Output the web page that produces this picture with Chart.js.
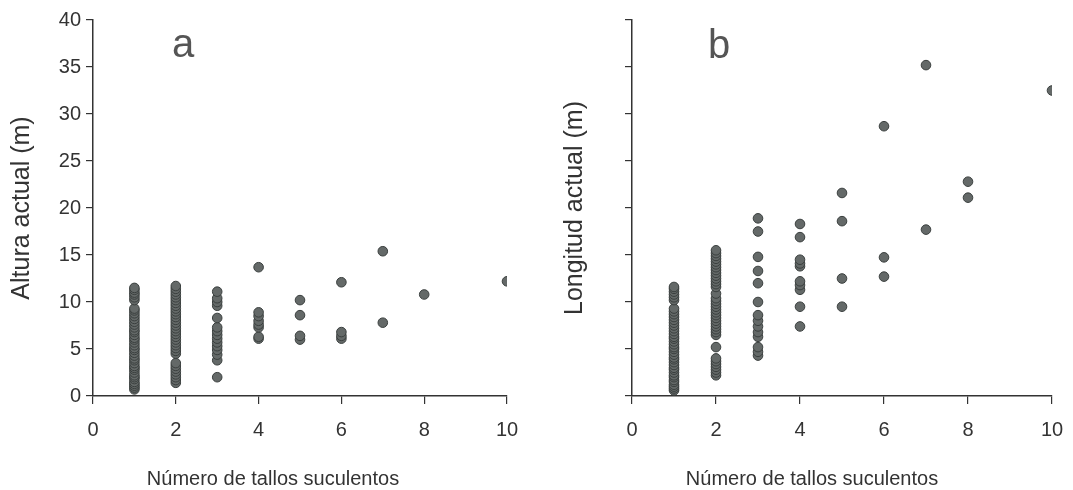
<!DOCTYPE html>
<html>
<head>
<meta charset="utf-8">
<script src="https://cdn.jsdelivr.net/npm/chart.js@4.4.1/dist/chart.umd.min.js"></script>
<style>
  html, body { margin: 0; padding: 0; background: #fff; }
  #wrap { position: relative; width: 1073px; height: 490px; }
  #panelA { position: absolute; left: 0; top: 0; }
  #panelB { position: absolute; left: 536px; top: 0; }
</style>
</head>
<body>
<div id="wrap">
  <canvas id="panelA" width="536" height="490"></canvas>
  <canvas id="panelB" width="537" height="490"></canvas>
</div>
<script>
// número de tallos suculentos (eje x)
const tallos = [1, 2, 3, 4, 5, 6, 7, 8, 10];

// a: altura actual (m) por número de tallos
const alturaActual = [
  [0.7, 0.9, 1.1, 1.3, 1.5, 1.8, 2.0, 2.2, 2.5, 2.8, 3.0, 3.2, 3.5, 3.8, 4.0, 4.3, 4.6, 4.9, 5.1, 5.4,
   5.7, 6.0, 6.2, 6.5, 6.8, 7.0, 7.3, 7.6, 7.9, 8.2, 8.5, 8.8, 9.1, 9.3, 10.2, 10.5, 10.8, 11.0, 11.3, 11.5],
  [1.4, 1.7, 2.0, 2.3, 2.6, 2.9, 3.2, 3.5, 4.5, 4.8, 5.1, 5.4, 5.7, 6.0, 6.3, 6.6, 6.9, 7.2, 7.5, 7.8,
   8.1, 8.4, 8.7, 9.0, 9.3, 9.6, 9.9, 10.2, 10.5, 10.8, 11.1, 11.4, 11.7],
  [2.0, 3.8, 4.4, 4.9, 5.3, 5.7, 6.1, 6.5, 6.9, 7.3, 8.3, 9.6, 10.0, 10.4, 11.1],
  [6.1, 6.3, 7.3, 7.6, 8.0, 8.5, 8.9, 13.7],
  [6.0, 6.4, 8.6, 10.2],
  [6.1, 6.4, 6.8, 12.1],
  [7.8, 15.4],
  [10.8],
  [12.2]
];

// b: longitud actual (m) por número de tallos
const longitudActual = [
  [0.6, 0.8, 1.0, 1.2, 1.5, 1.7, 2.0, 2.2, 2.5, 2.8, 3.0, 3.3, 3.6, 3.9, 4.1, 4.4, 4.7, 5.0, 5.2, 5.5,
   5.8, 6.1, 6.3, 6.6, 6.9, 7.2, 7.5, 7.8, 8.1, 8.4, 8.7, 9.0, 9.3, 10.2, 10.5, 10.8, 11.1, 11.4, 11.6],
  [2.2, 2.5, 2.8, 3.1, 3.4, 3.7, 4.0, 5.2, 6.5, 6.8, 7.1, 7.4, 7.7, 8.0, 8.3, 8.6, 8.9, 9.2, 9.5, 9.8,
   10.1, 10.4, 10.9, 11.6, 11.9, 12.2, 12.5, 12.8, 13.1, 13.4, 13.7, 14.0, 14.3, 14.6, 14.9, 15.2, 15.5],
  [4.3, 4.7, 5.2, 6.3, 6.8, 7.4, 8.0, 8.6, 10.0, 12.0, 13.3, 14.8, 17.5, 18.9],
  [7.4, 9.5, 11.3, 11.8, 12.2, 13.8, 14.1, 14.5, 16.9, 18.3],
  [9.5, 12.5, 18.6, 21.6],
  [12.7, 14.75, 28.7],
  [17.7, 35.2],
  [21.1, 22.8],
  [32.5]
];

const xTicks = [0, 2, 4, 6, 8, 10];
const yTicks = [0, 5, 10, 15, 20, 25, 30, 35, 40];
const xTitle = 'Número de tallos suculentos';

const FONT = '"Liberation Sans", Arial, Helvetica, sans-serif';
const INK = '#333';

function toPoints(values){
  return tallos.flatMap((t, i) => values[i].map(v => ({ x: t, y: v })));
}

// panel letter + x-axis title (the original title sits left of the axis centre)
const panelText = {
  id: 'panelText',
  afterDraw(chart, args, opts){
    const ctx = chart.ctx;
    const left = chart.chartArea.left;
    ctx.save();
    ctx.textAlign = 'center';
    ctx.textBaseline = 'alphabetic';
    ctx.fillStyle = '#555';
    ctx.font = '40px ' + FONT;
    ctx.fillText(opts.letter, left + opts.letterDx, opts.letterY);
    ctx.fillStyle = INK;
    ctx.font = '20px ' + FONT;
    ctx.fillText(xTitle, left + opts.titleDx, 485);
    ctx.restore();
  }
};

function makePanel(canvasId, values, yTitle, opt){
  new Chart(document.getElementById(canvasId), {
    type: 'scatter',
    data: {
      datasets: [{
        data: toPoints(values),
        pointRadius: 4.8,
        pointHoverRadius: 4.8,
        pointBackgroundColor: '#646968',
        pointBorderColor: '#3a3f3e',
        pointBorderWidth: 1
      }]
    },
    options: {
      responsive: false,
      animation: false,
      events: [],
      layout: { padding: { left: 0, right: opt.padRight, top: 20, bottom: 0 } },
      plugins: {
        legend: { display: false },
        tooltip: { enabled: false },
        panelText: { letter: opt.letter, letterDx: opt.letterDx, letterY: opt.letterY, titleDx: 180 }
      },
      scales: {
        x: {
          type: 'linear',
          min: 0, max: 10,
          afterBuildTicks: s => { s.ticks = xTicks.map(v => ({ value: v })); },
          afterFit: s => { s.height = 94; s.paddingRight = 0; },
          ticks: { color: INK, font: { family: FONT, size: 20 }, padding: 14, maxRotation: 0 },
          grid: { drawOnChartArea: false, drawTicks: true, tickLength: 8, color: INK, lineWidth: 1.2 },
          border: { color: INK, width: 1.5 },
          title: { display: false }
        },
        y: {
          type: 'linear',
          min: 0, max: 40,
          afterBuildTicks: s => { s.ticks = yTicks.map(v => ({ value: v })); },
          afterFit: s => { s.width = opt.yWidth; },
          ticks: { display: opt.yLabels, color: INK, font: { family: FONT, size: 20 }, padding: 5 },
          grid: { drawOnChartArea: false, drawTicks: true, tickLength: 7, color: INK, lineWidth: 1.2 },
          border: { color: INK, width: 1.5 },
          title: { display: true, text: yTitle, color: INK,
                   font: { family: FONT, size: 25 }, padding: { top: opt.yTitlePad, bottom: 0 } }
        }
      }
    },
    plugins: [panelText]
  });
}

makePanel('panelA', alturaActual, 'Altura actual (m)',
  { letter: 'a', padRight: 29, yWidth: 93, yLabels: true, yTitlePad: 7, letterDx: 90, letterY: 57 });
makePanel('panelB', longitudActual, 'Longitud actual (m)',
  { letter: 'b', padRight: 21, yWidth: 96, yLabels: false, yTitlePad: 24, letterDx: 87, letterY: 58 });
</script>
</body>
</html>
